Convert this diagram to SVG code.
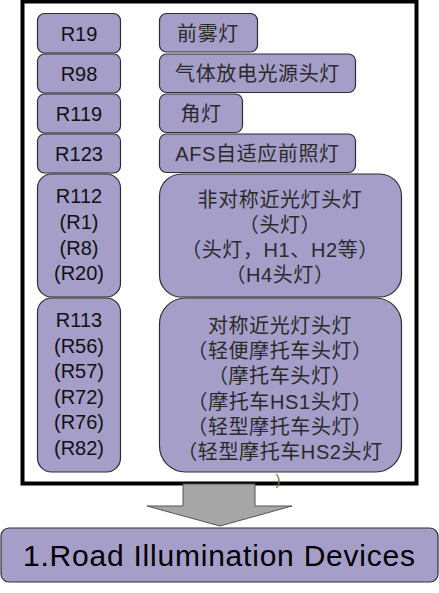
<svg xmlns="http://www.w3.org/2000/svg" width="439" height="593" viewBox="0 0 439 593">
<style>
.box{fill:#a49ec9;stroke:#2e2e2e;stroke-width:1.2}
.t{font-family:"Liberation Sans","Noto Sans CJK SC",sans-serif;font-size:20px;fill:#111;text-anchor:middle}
.c{font-family:"Liberation Sans","Noto Sans CJK SC",sans-serif;font-size:20px;fill:#2a2a2a;text-anchor:middle;letter-spacing:0.6px}
</style>
<rect id="frame" x="22.5" y="1.5" width="394" height="482" fill="#fff" stroke="#000" stroke-width="4"/>
<g id="connectors">
<polygon points="183,484 255,484 255,506 292,506 220,526 147,506 183,506" fill="#a6a6a6" stroke="#555" stroke-width="1"/>
</g>
<g id="n-r19"><rect class="box" x="37.5" y="13.5" width="83" height="39.5" rx="7"/><text class="t" x="79" y="41">R19</text></g>
<g id="n-r98"><rect class="box" x="37.5" y="54" width="83" height="39" rx="7"/><text class="t" x="79" y="81">R98</text></g>
<g id="n-r119"><rect class="box" x="37.5" y="94" width="83" height="39" rx="7"/><text class="t" x="79" y="121">R119</text></g>
<g id="n-r123"><rect class="box" x="37.5" y="134" width="83" height="39" rx="7"/><text class="t" x="79" y="161">R123</text></g>
<g id="n-r112"><rect class="box" x="37.5" y="174" width="83" height="123" rx="14"/>
<text class="t" x="79" y="203">R112</text><text class="t" x="79" y="229">(R1)</text><text class="t" x="79" y="255">(R8)</text><text class="t" x="79" y="280">(R20)</text></g>
<g id="n-r113"><rect class="box" x="37.5" y="298" width="83" height="174" rx="14"/>
<text class="t" x="79" y="327">R113</text><text class="t" x="79" y="353">(R56)</text><text class="t" x="79" y="378">(R57)</text><text class="t" x="79" y="404">(R72)</text><text class="t" x="79" y="429">(R76)</text><text class="t" x="79" y="455">(R82)</text></g>
<g id="n-fog"><rect class="box" x="159.5" y="13.5" width="98" height="38.5" rx="7"/><text class="c" x="208" y="41">前雾灯</text></g>
<g id="n-gas"><rect class="box" x="159.5" y="54" width="196" height="38.5" rx="7"/><text class="c" x="257.5" y="81">气体放电光源头灯</text></g>
<g id="n-corner"><rect class="box" x="159.5" y="94" width="83" height="38.5" rx="7"/><text class="c" x="201" y="121">角灯</text></g>
<g id="n-afs"><rect class="box" x="159.5" y="134" width="196" height="38.5" rx="7"/><text class="c" x="257.5" y="161">AFS自适应前照灯</text></g>
<g id="n-asym"><rect class="box" x="159.5" y="174" width="242" height="123" rx="22"/>
<text class="c" x="280" y="207">非对称近光灯头灯</text><text class="c" x="280" y="232">（头灯）</text><text class="c" x="280" y="257">（头灯，H1、H2等）</text><text class="c" x="280" y="282">（H4头灯）</text></g>
<g id="n-sym"><rect class="box" x="159.5" y="298" width="242" height="174" rx="26"/>
<text class="c" x="280" y="333">对称近光灯头灯</text><text class="c" x="280" y="358">（轻便摩托车头灯）</text><text class="c" x="280" y="383">（摩托车头灯）</text><text class="c" x="280" y="409">（摩托车HS1头灯）</text><text class="c" x="280" y="434">（轻型摩托车头灯）</text><text class="c" x="280" y="459">（轻型摩托车HS2头灯</text>
<text x="278" y="485" font-family="Liberation Sans,sans-serif" font-size="15" fill="#8a6a3a" text-anchor="middle">)</text></g>
<g id="n-road"><rect class="box" x="1" y="528" width="437" height="54" rx="8"/>
<text x="219" y="566" font-family="Liberation Sans,sans-serif" font-size="30" fill="#000" text-anchor="middle" textLength="392" lengthAdjust="spacing">1.Road Illumination Devices</text></g>
</svg>
